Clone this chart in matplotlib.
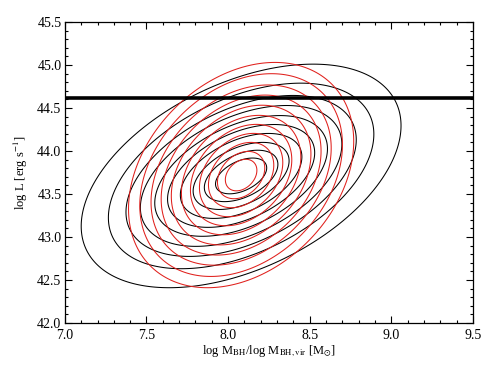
import numpy as np
import matplotlib
matplotlib.use("Agg")
import matplotlib.pyplot as plt
from matplotlib.ticker import MultipleLocator

# ---- data ----
# each sample's contours: centre, outer half-widths, tilt (correlation),
# and contour radii as fractions of the outermost contour
black_center = (8.08, 43.71)      # (log M_BH, log L)
black_halfwidth = (0.98, 1.30)
black_rho = 0.45
black_radii = [1.00, 0.83, 0.72, 0.63, 0.54, 0.46, 0.38, 0.30, 0.23, 0.16]

red_center = (8.08, 43.72)
red_halfwidth = (0.69, 1.31)
red_rho = 0.30
red_radii = [1.00, 0.90, 0.80, 0.71, 0.62, 0.53, 0.45, 0.37, 0.29, 0.21, 0.14]

threshold_logL = 44.62
x_ticks = [7.0, 7.5, 8.0, 8.5, 9.0, 9.5]
y_ticks = [42.0, 42.5, 43.0, 43.5, 44.0, 44.5, 45.0, 45.5]

plt.rcParams['font.family'] = ['Liberation Serif', 'DejaVu Serif']
plt.rcParams['mathtext.fontset'] = 'stix'

def radius(X, Y, c, s, rho):
    dx = (X - c[0]) / s[0]
    dy = (Y - c[1]) / s[1]
    q = (dx**2 - 2 * rho * dx * dy + dy**2) / (1 - rho**2)
    return np.sqrt(q)

xg = np.linspace(7.0, 9.5, 500)
yg = np.linspace(42.0, 45.5, 500)
X, Y = np.meshgrid(xg, yg)

fig = plt.figure(figsize=(5.03, 3.67), dpi=100)
ax = fig.add_axes([0.129, 0.120, 0.811, 0.820])

ax.contour(X, Y, radius(X, Y, black_center, black_halfwidth, black_rho),
           levels=sorted(black_radii), colors='black', linewidths=0.75)
ax.contour(X, Y, radius(X, Y, red_center, red_halfwidth, red_rho),
           levels=sorted(red_radii), colors='#e0201c', linewidths=0.75)
ax.axhline(threshold_logL, color='black', linewidth=2.6)

ax.set_xlim(7.0, 9.5)
ax.set_ylim(42.0, 45.5)
ax.set_xticks(x_ticks)
ax.set_yticks(y_ticks)
ax.set_xticklabels([f"{v:.1f}" for v in x_ticks])
ax.set_yticklabels([f"{v:.1f}" for v in y_ticks])
ax.xaxis.set_minor_locator(MultipleLocator(0.1))
ax.yaxis.set_minor_locator(MultipleLocator(0.1))
ax.tick_params(which='both', direction='in', top=True, right=True,
               labelsize=10, width=0.8)
ax.tick_params(axis='y', pad=2.5)
ax.tick_params(axis='x', pad=4)
ax.tick_params(which='major', length=5)
ax.tick_params(which='minor', length=2.5)
for sp in ax.spines.values():
    sp.set_linewidth(0.9)

ax.set_xlabel(r"log M$_{\rm BH}$/log M$_{\rm BH,vir}$ [M$_{\odot}$]", fontsize=9, labelpad=1)
ax.set_ylabel(r"log L [erg s$^{-1}$]", fontsize=9, labelpad=5)

fig.savefig("out.png", dpi=100)
